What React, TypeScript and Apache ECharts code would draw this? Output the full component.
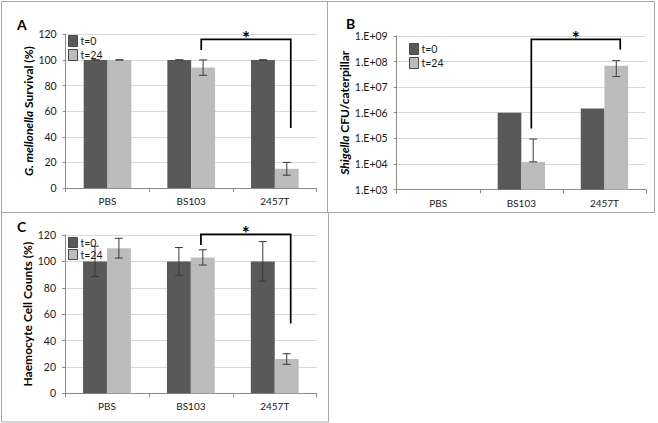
import React, { useEffect, useRef } from 'react';
import * as echarts from 'echarts';

// ---------- data ----------
const categories = ['PBS', 'BS103', '2457T'];
const legendNames = ['t=0', 't=24'];
const percentTicks = [0, 20, 40, 60, 80, 100, 120];
const logTickExponents = [3, 4, 5, 6, 7, 8, 9];

// Panel A: G. mellonella survival (%)
const survivalT0 = [100, 100, 100];
const survivalT0Err = [0, 0, 0];
const survivalT24 = [100, 94, 15];
const survivalT24Err = [0, 6, 5];
const survivalBracket = [1, 2, 116, 107.7, 46.8]; // from cat, to cat, top, left end, right end

// Panel B: Shigella CFU / caterpillar
const cfuT0 = [null, 1.0e6, 1.47e6];
const cfuT24 = [null, 1.2e4, 6.8e7];
const cfuT24Low = [null, 1.2e4, 2.6e7];
const cfuT24High = [null, 9.4e4, 1.09e8];
const cfuBracket = [1, 2, 7.4e8, 2.4e5, 3.0e8];

// Panel C: Haemocyte cell counts (%)
const haemoT0 = [100, 100, 100];
const haemoT0Err = [11.5, 10.5, 15];
const haemoT24 = [110, 103, 26];
const haemoT24Err = [7.5, 5.8, 4];
const haemoBracket = [1, 2, 120.5, 112.4, 53];

// ---------- styling ----------
const FONT = 'Lato';
const DARK = '#595959';
const LIGHT = '#bcbcbc';
const GRIDLINE = '#d9d9d9';
const AXIS = '#8c8c8c';
const TEXT = '#1a1a1a';
const BORDER = '#a8a8a8';
const BAR_FRAC = 0.285;

function errData(vals: (number | null)[], lows: (number | null)[], highs: (number | null)[], slot: number) {
  const out: number[][] = [];
  vals.forEach((v, i) => {
    if (v == null || lows[i] == null || highs[i] == null) return;
    out.push([i, lows[i] as number, highs[i] as number, slot]);
  });
  return out;
}

function symErr(vals: number[], errs: number[], slot: number) {
  return errData(
    vals,
    vals.map((v, i) => v - errs[i]),
    vals.map((v, i) => v + errs[i]),
    slot
  );
}

function renderError(params: any, api: any) {
  const i = api.value(0);
  const lo = api.value(1);
  const hi = api.value(2);
  const slot = api.value(3);
  const band = api.size([1, 0], [i, hi])[0];
  const pHi = api.coord([i, hi]);
  const pLo = api.coord([i, lo]);
  const x = pHi[0] + (slot === 0 ? -0.5 : 0.5) * band * BAR_FRAC;
  const cap = 4;
  const style = { stroke: '#3a3a3a', lineWidth: 1 };
  return {
    type: 'group',
    children: [
      { type: 'line', shape: { x1: x, y1: pHi[1], x2: x, y2: pLo[1] }, style },
      { type: 'line', shape: { x1: x - cap, y1: pHi[1], x2: x + cap, y2: pHi[1] }, style },
      { type: 'line', shape: { x1: x - cap, y1: pLo[1], x2: x + cap, y2: pLo[1] }, style },
    ],
  };
}

function renderBracket(params: any, api: any) {
  const from = api.value(0);
  const to = api.value(1);
  const top = api.value(2);
  const le = api.value(3);
  const re = api.value(4);
  const band = api.size([1, 0], [from, top])[0];
  const p1 = api.coord([from, top]);
  const p2 = api.coord([to, top]);
  const pL = api.coord([from, le]);
  const pR = api.coord([to, re]);
  const x1 = p1[0] + band * 0.12;
  const x2 = p2[0] + band * 0.19;
  return {
    type: 'group',
    children: [
      {
        type: 'polyline',
        shape: { points: [[x1, pL[1]], [x1, p1[1]], [x2, p1[1]], [x2, pR[1]]] },
        style: { stroke: '#000', lineWidth: 1.7, fill: null },
      },
      {
        type: 'text',
        x: (x1 + x2) / 2,
        y: p1[1] - 2,
        style: {
          text: '*',
          fill: '#000',
          font: `bold 19px ${FONT}`,
          textAlign: 'center',
          textVerticalAlign: 'middle',
          align: 'center',
          verticalAlign: 'middle',
        },
      },
    ],
  };
}

function xAxis(gridIndex: number) {
  return {
    type: 'category',
    gridIndex,
    data: categories,
    axisLine: { show: true, lineStyle: { color: AXIS, width: 1 } },
    axisTick: { show: true, length: 4, lineStyle: { color: AXIS } },
    axisLabel: { fontSize: 10, color: TEXT, margin: 8, fontFamily: FONT },
    splitLine: { show: false },
  };
}

function nameStyle() {
  return {
    fontWeight: 'bold',
    fontSize: 12,
    color: '#000',
    fontFamily: FONT,
    rich: {
      i: { fontStyle: 'italic', fontWeight: 'bold', fontSize: 12, color: '#000', fontFamily: FONT },
      b: { fontWeight: 'bold', fontSize: 12, color: '#000', fontFamily: FONT },
    },
  };
}

function percentAxis(gridIndex: number, name: string, nameGap: number) {
  return {
    type: 'value',
    gridIndex,
    min: percentTicks[0],
    max: percentTicks[percentTicks.length - 1],
    interval: percentTicks[1] - percentTicks[0],
    name,
    nameLocation: 'middle',
    nameRotate: 90,
    nameGap,
    nameTextStyle: nameStyle(),
    axisLine: { show: true, lineStyle: { color: AXIS, width: 1 } },
    axisTick: { show: true, length: 3, lineStyle: { color: AXIS } },
    axisLabel: { fontSize: 10.5, color: TEXT, margin: 9, fontFamily: FONT },
    splitLine: { show: true, lineStyle: { color: GRIDLINE, width: 1 } },
  };
}

function legend(left: number, top: number, itemHeight: number, itemGap: number) {
  return {
    left,
    top,
    orient: 'vertical',
    padding: 0,
    itemWidth: 9,
    itemHeight,
    itemGap,
    selectedMode: false,
    icon: 'rect',
    data: legendNames,
    itemStyle: { borderColor: '#4a4a4a', borderWidth: 1 },
    textStyle: { fontSize: 10.5, color: TEXT, fontFamily: FONT, padding: [0, 0, 0, -2] },
  };
}

function bars(xi: number, yi: number, t0: (number | null)[], t24: (number | null)[]) {
  return [
    {
      type: 'bar',
      name: legendNames[0],
      xAxisIndex: xi,
      yAxisIndex: yi,
      data: t0.map((v) => (v == null ? '-' : v)),
      barWidth: `${BAR_FRAC * 100}%`,
      barGap: '0%',
      itemStyle: { color: DARK },
      z: 2,
    },
    {
      type: 'bar',
      name: legendNames[1],
      xAxisIndex: xi,
      yAxisIndex: yi,
      data: t24.map((v) => (v == null ? '-' : v)),
      barWidth: `${BAR_FRAC * 100}%`,
      barGap: '0%',
      itemStyle: { color: LIGHT },
      z: 2,
    },
  ];
}

function errorSeries(xi: number, yi: number, data: number[][]) {
  return {
    type: 'custom',
    name: 'err',
    xAxisIndex: xi,
    yAxisIndex: yi,
    renderItem: renderError,
    encode: { x: 0, y: [1, 2] },
    data,
    z: 5,
    clip: false,
    silent: true,
  };
}

function bracketSeries(xi: number, yi: number, b: number[]) {
  return {
    type: 'custom',
    name: 'sig',
    xAxisIndex: xi,
    yAxisIndex: yi,
    renderItem: renderBracket,
    encode: { x: 0, y: 2 },
    data: [b],
    z: 6,
    clip: false,
    silent: true,
  };
}

function panelLetter(text: string, x: number, y: number) {
  return {
    type: 'text',
    x,
    y,
    style: { text, font: `bold 14px ${FONT}`, fill: '#000' },
  };
}

export default function App() {
  const ref = useRef<HTMLDivElement>(null);
  useEffect(() => {
    if (!ref.current) return;
    const chart = echarts.init(ref.current, undefined, { renderer: 'svg' });
    const option: any = {
      animation: false,
      backgroundColor: '#fff',
      textStyle: { fontFamily: FONT },
      grid: [
        { left: 65.7, top: 34.3, width: 251, height: 153.7 },
        { left: 396.7, top: 36, width: 249.3, height: 153.5 },
        { left: 65, top: 235, width: 251.7, height: 158.3 },
      ],
      xAxis: [xAxis(0), xAxis(1), xAxis(2)],
      yAxis: [
        percentAxis(0, '{i|G. mellonella}{b| Survival (%)}', 26),
        {
          type: 'log',
          gridIndex: 1,
          logBase: 10,
          min: Math.pow(10, logTickExponents[0]),
          max: Math.pow(10, logTickExponents[logTickExponents.length - 1]),
          splitNumber: logTickExponents.length - 1,
          name: '{i|Shigella}{b| CFU/caterpillar}',
          nameLocation: 'middle',
          nameRotate: 90,
          nameGap: 39,
          nameTextStyle: nameStyle(),
          axisLine: { show: true, lineStyle: { color: AXIS, width: 1 } },
          axisTick: { show: true, length: 3, lineStyle: { color: AXIS } },
          axisLabel: {
            fontSize: 10.5,
            color: TEXT,
            margin: 9,
            fontFamily: FONT,
            formatter: (v: number) => {
              const e = Math.round(Math.log10(v));
              return '1.E+' + String(e).padStart(2, '0');
            },
          },
          splitLine: { show: true, lineStyle: { color: GRIDLINE, width: 1 } },
        },
        percentAxis(2, 'Haemocyte Cell Counts (%)', 25.5),
      ],
      legend: [legend(68, 35, 11, 2), legend(409, 43, 11, 2), legend(68, 237, 10, 1)],
      series: [
        ...bars(0, 0, survivalT0, survivalT24),
        errorSeries(0, 0, [...symErr(survivalT0, survivalT0Err, 0), ...symErr(survivalT24, survivalT24Err, 1)]),
        bracketSeries(0, 0, survivalBracket),
        ...bars(1, 1, cfuT0, cfuT24),
        errorSeries(1, 1, errData(cfuT24, cfuT24Low, cfuT24High, 1)),
        bracketSeries(1, 1, cfuBracket),
        ...bars(2, 2, haemoT0, haemoT24),
        errorSeries(2, 2, [...symErr(haemoT0, haemoT0Err, 0), ...symErr(haemoT24, haemoT24Err, 1)]),
        bracketSeries(2, 2, haemoBracket),
      ],
      graphic: [
        { type: 'rect', shape: { x: 1.5, y: 1.5, width: 653, height: 211 }, style: { stroke: BORDER, fill: 'none', lineWidth: 1 } },
        { type: 'line', shape: { x1: 327.5, y1: 1.5, x2: 327.5, y2: 212.5 }, style: { stroke: BORDER, lineWidth: 1 } },
        { type: 'rect', shape: { x: 1.5, y: 212.5, width: 327, height: 209.5 }, style: { stroke: BORDER, fill: 'none', lineWidth: 1 } },
        panelLetter('A', 17, 17),
        panelLetter('B', 346, 16),
        panelLetter('C', 17, 219),
      ],
    };
    chart.setOption(option);
    return () => chart.dispose();
  }, []);
  return <div ref={ref} style={{ position: 'absolute', left: 0, top: 0, width: 658, height: 423 }} />;
}
